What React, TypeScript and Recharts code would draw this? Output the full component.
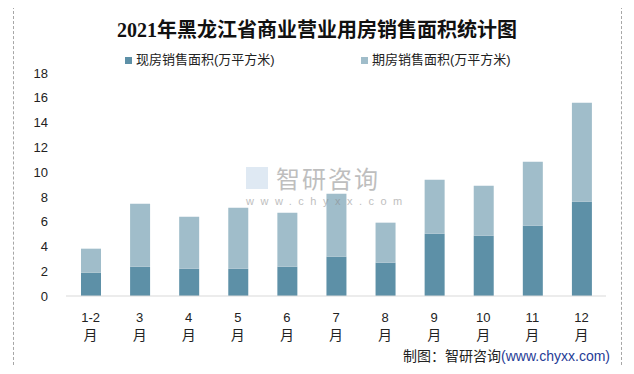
import { BarChart, Bar, XAxis, YAxis } from 'recharts';

const months = ['1-2', '3', '4', '5', '6', '7', '8', '9', '10', '11', '12'];
// 现房销售面积 (万平方米)
const xianfang = [1.88, 2.36, 2.2, 2.2, 2.36, 3.17, 2.69, 5.03, 4.87, 5.67, 7.61];
// 期房销售面积 (万平方米)
const qifang = [1.94, 5.09, 4.2, 4.93, 4.36, 5.09, 3.23, 4.36, 4.03, 5.17, 7.99];
const yTicks = [0, 2, 4, 6, 8, 10, 12, 14, 16, 18];

const data = months.map((m, i) => ({ month: m, xian: xianfang[i], qi: qifang[i] }));

const DARK = '#5d90a7';
const LIGHT = '#a0bdca';
const FONT = "'Liberation Sans', 'Noto Sans CJK SC', sans-serif";

function MonthTick(props: any) {
  const { x, y, payload } = props;
  return (
    <g transform={`translate(${x},${y})`}>
      <text x={0} y={18} textAnchor="middle" fontSize={13} fill="#222" fontFamily={FONT}>{payload.value}</text>
      <text x={0} y={36} textAnchor="middle" fontSize={14} fill="#222" fontFamily="'Noto Sans CJK SC', sans-serif">月</text>
    </g>
  );
}

export default function App() {
  return (
    <div style={{ position: 'relative', width: 634, height: 374, margin: -8, background: '#fff', overflow: 'hidden' }}>
      <div style={{ position: 'absolute', left: 13, top: 6, width: 607, height: 362, border: '1px dashed #a6a6a6' }} />
      <div style={{ position: 'absolute', left: 0, width: 634, top: 17, textAlign: 'center', fontSize: 20, fontWeight: 'bold', fontFamily: "'Liberation Serif', 'Noto Sans CJK SC', serif", color: '#111', lineHeight: '26px' }}>
        2021年黑龙江省商业营业用房销售面积统计图
      </div>
      <div style={{ position: 'absolute', left: 125, top: 51, fontSize: 13, fontFamily: FONT, color: '#222', display: 'flex', alignItems: 'center', lineHeight: '18px' }}>
        <span style={{ width: 7, height: 7, background: DARK, marginRight: 4, display: 'inline-block' }} />
        现房销售面积(万平方米)
      </div>
      <div style={{ position: 'absolute', left: 361, top: 51, fontSize: 13, fontFamily: FONT, color: '#222', display: 'flex', alignItems: 'center', lineHeight: '18px' }}>
        <span style={{ width: 7, height: 7, background: LIGHT, marginRight: 4, display: 'inline-block' }} />
        期房销售面积(万平方米)
      </div>
      <div style={{ position: 'absolute', left: 0, top: 0 }}>
        <BarChart width={634} height={374} data={data} margin={{ top: 73, right: 28, bottom: 48, left: 26 }}>
          <XAxis dataKey="month" height={30} axisLine={{ stroke: '#d9d9d9' }} tickLine={false} tick={<MonthTick />} interval={0} />
          <YAxis domain={[0, 18]} ticks={yTicks} axisLine={false} tickLine={false} width={40} tickMargin={12}
            tick={{ fontSize: 13, fill: '#222', fontFamily: FONT }} interval={0} />
          <Bar dataKey="xian" stackId="a" fill={DARK} barSize={20} isAnimationActive={false} />
          <Bar dataKey="qi" stackId="a" fill={LIGHT} barSize={20} isAnimationActive={false} />
        </BarChart>
      </div>
      <div style={{ position: 'absolute', left: 246, top: 165, pointerEvents: 'none', opacity: 0.55 }}>
        <div style={{ display: 'flex', alignItems: 'center', height: 26 }}>
          <span style={{ width: 22, height: 22, background: '#c5d8ea', marginRight: 8, display: 'inline-block' }} />
          <span style={{ fontSize: 24, color: '#8a8a8a', fontFamily: "'Noto Sans CJK SC', sans-serif", letterSpacing: 2, lineHeight: '26px' }}>智研咨询</span>
        </div>
        <div style={{ fontSize: 11, color: '#8a8a8a', fontFamily: FONT, letterSpacing: 6.5, marginTop: 4, lineHeight: '12px' }}>www.chyxx.com</div>
      </div>
      <div style={{ position: 'absolute', right: 24, top: 346, fontSize: 14, fontFamily: FONT, color: '#222', lineHeight: '20px' }}>
        制图：智研咨询<span style={{ color: '#1f3c96' }}>(www.chyxx.com)</span>
      </div>
    </div>
  );
}
